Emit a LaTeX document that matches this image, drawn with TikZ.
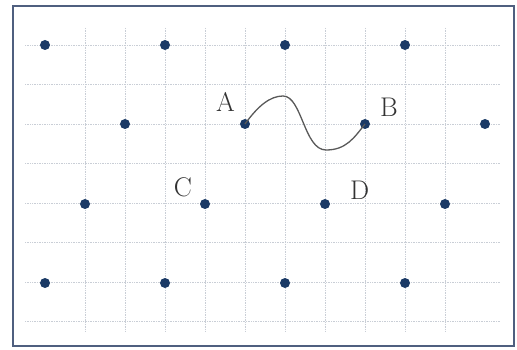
\documentclass[tikz,border=0pt]{standalone}
\usepackage{tikz}
\usetikzlibrary{positioning, calc}
\definecolor{frameSlate}{HTML}{4F5F7F}
\definecolor{dotNavy}{HTML}{1B3A66}
\definecolor{gridGray}{HTML}{C9CED6}

\begin{document}
\begin{tikzpicture}[x=1pt, y=-1pt,
    site/.style={circle, fill=dotNavy, inner sep=0pt, minimum size=10pt},
    lbl/.style={font=\fontsize{27}{29}\selectfont, text=black!80, inner sep=0pt},
    gridline/.style={gridGray, densely dotted, line width=0.7pt}
  ]
  \useasboundingbox (0,0) rectangle (517,350);
  % frame
  \draw[frameSlate, line width=2pt] (13,6) rectangle (514,346);
  % dotted grid
  \foreach \gy in {45,84.5,124,163.5,203,242.5,282,321.5} {
    \draw[gridline] (25,\gy) -- (500,\gy);
  }
  \foreach \gx in {85,125,165,205,245,285,325,365,405,445} {
    \draw[gridline] (\gx,28) -- (\gx,332);
  }
  % lattice sites
  \foreach \i/\x in {1/45, 2/165, 3/285, 4/405} {
    \node[site] (t\i) at (\x,45) {};
    \node[site] (b\i) at (\x,283) {};
  }
  \foreach \i/\x in {1/125, 2/245, 3/365, 4/485} {
    \node[site] (u\i) at (\x,124) {};
  }
  \foreach \i/\x in {1/85, 2/205, 3/325, 4/445} {
    \node[site] (v\i) at (\x,204) {};
  }
  % labels
  \node[lbl, above left=12pt and 10pt of u2.center] (labA) {A};
  \node[lbl, above right=7pt and 15pt of u3.center] (labB) {B};
  \node[lbl, above left=7pt and 13pt of v2.center] (labC) {C};
  \node[lbl, above right=4pt and 25pt of v3.center] (labD) {D};
  % path from A to B
  \coordinate (crest) at (283,96);
  \coordinate (trough) at (326,150);
  \draw[black!65, line width=1.3pt]
    (u2.center) .. controls (258,106) and (270,96) .. (crest)
    .. controls (302,96) and (304,150) .. (trough)
    .. controls (346,150) and (354,138) .. (u3.center);
\end{tikzpicture}
\end{document}
